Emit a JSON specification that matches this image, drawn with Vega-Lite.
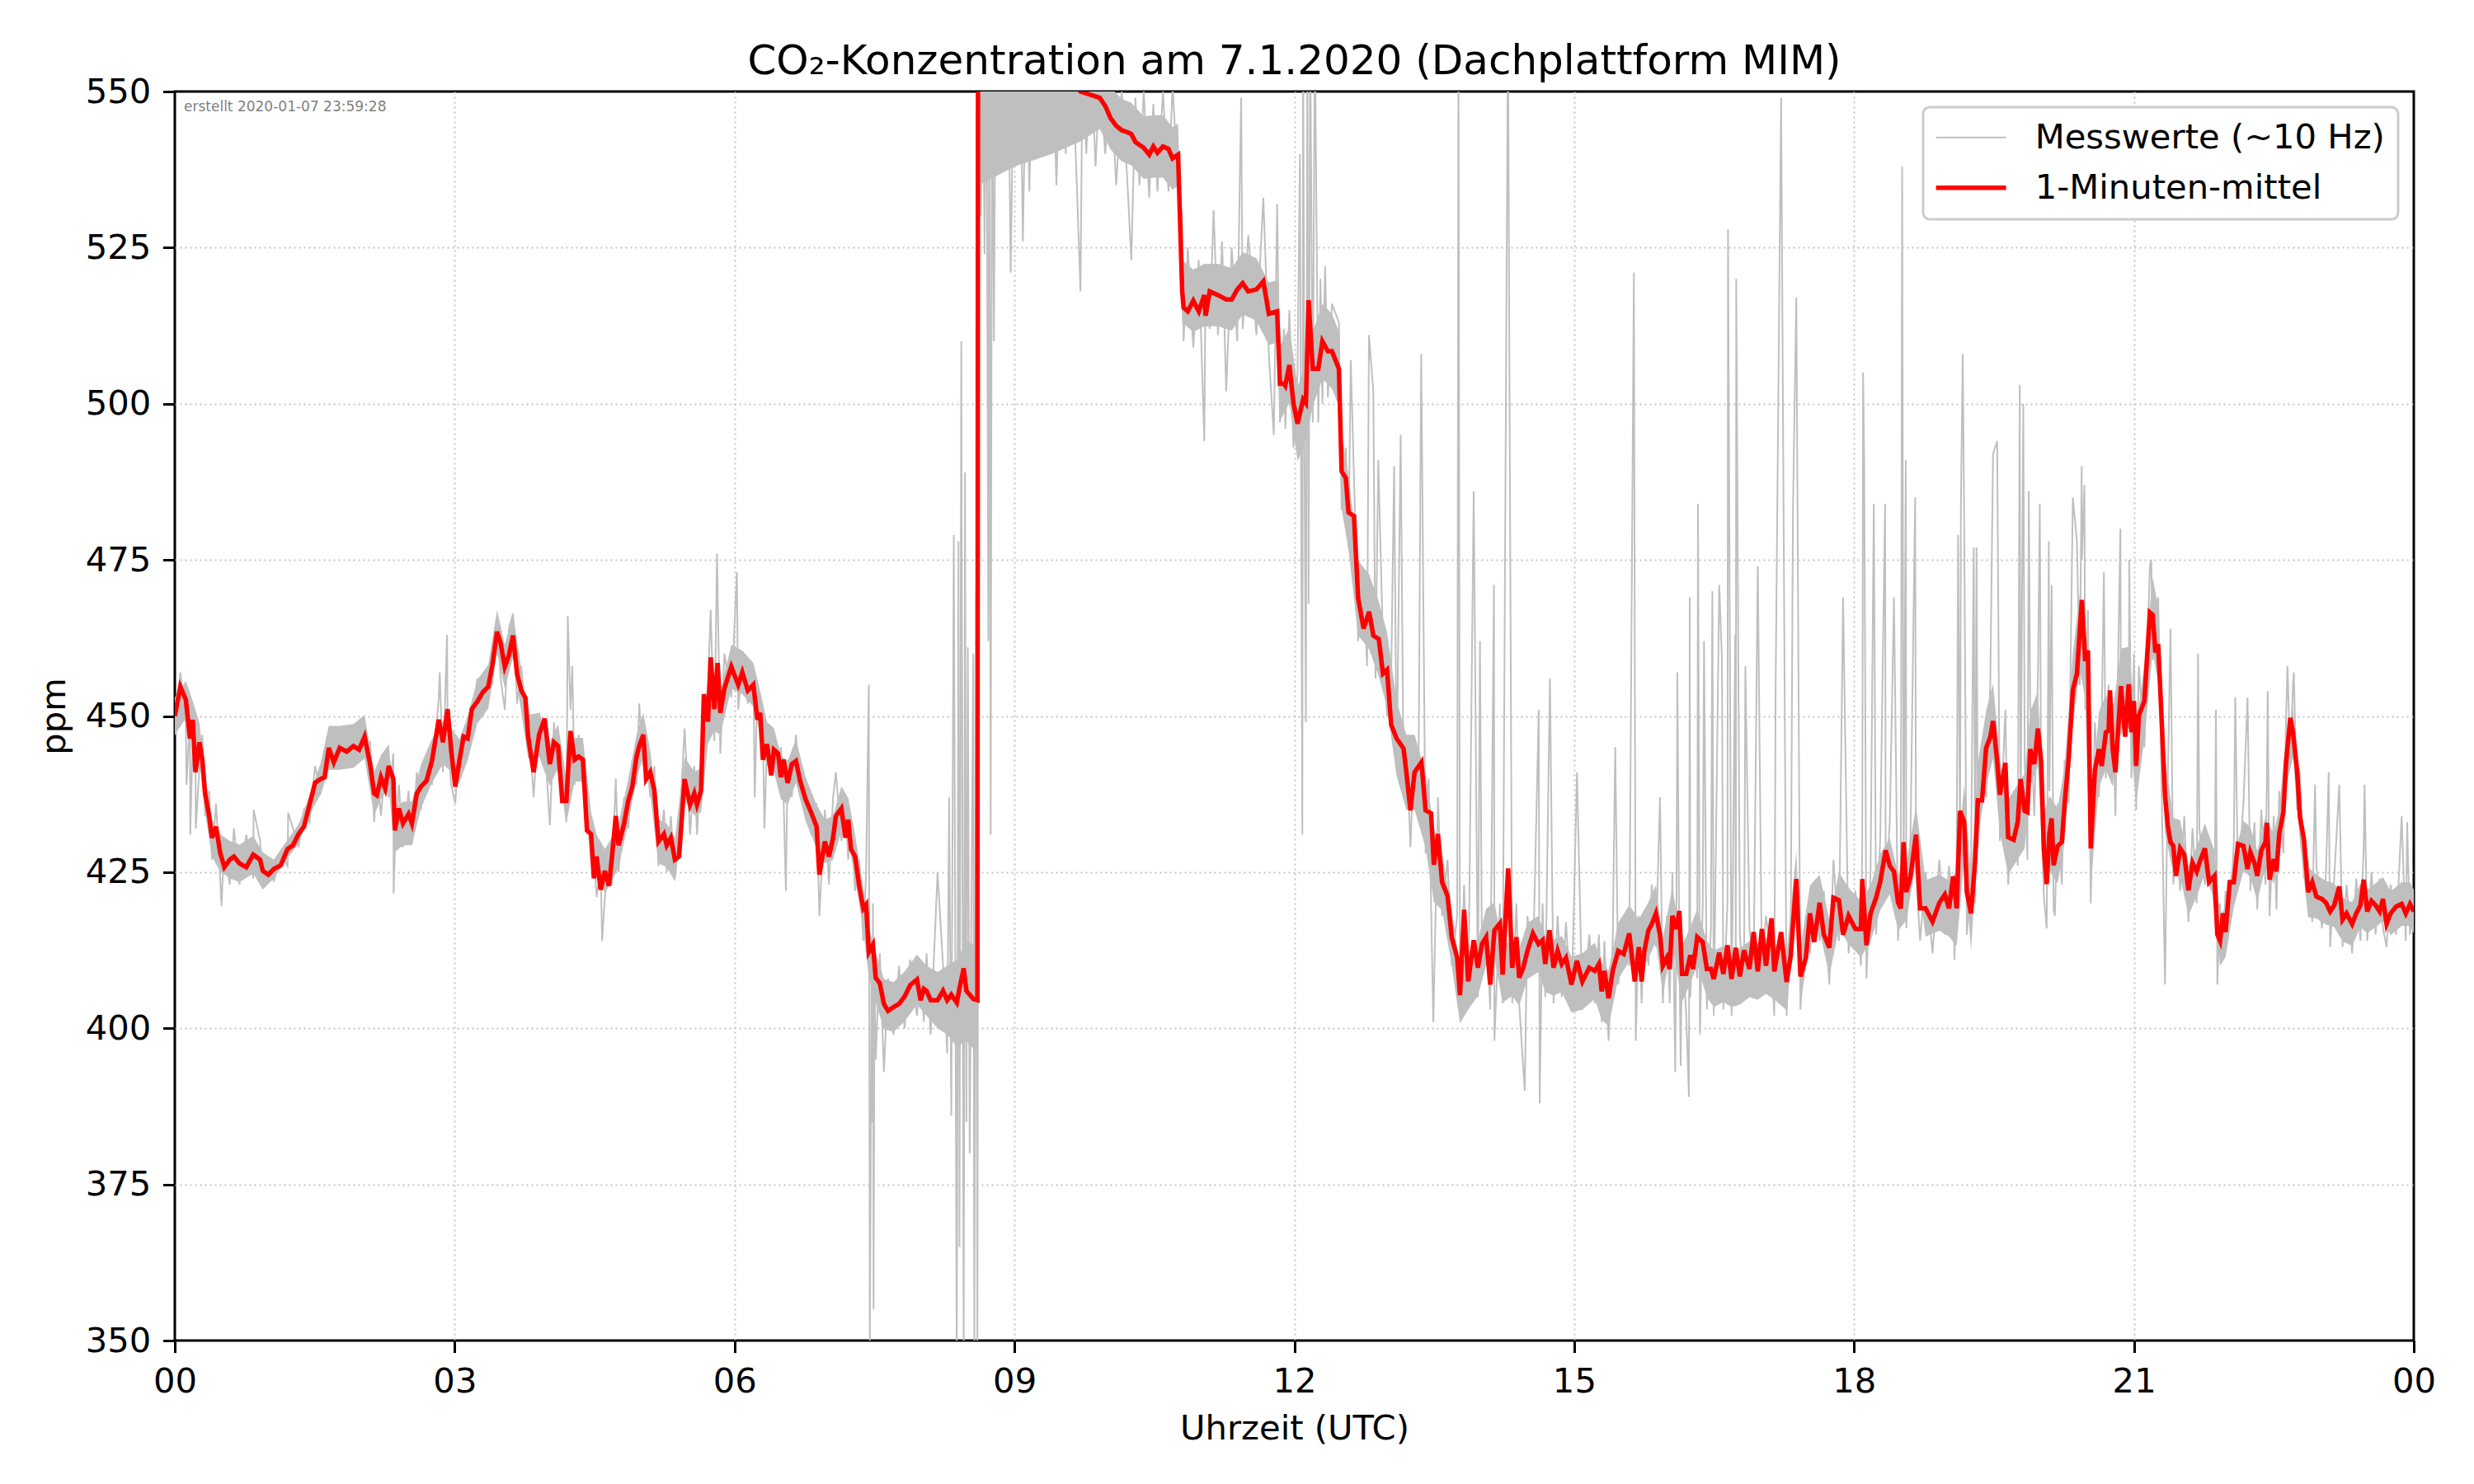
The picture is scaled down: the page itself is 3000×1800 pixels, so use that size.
{
"$schema": "https://vega.github.io/schema/vega-lite/v6.json",
"width": 2715,
"height": 1515,
"autosize": {"type": "none"},
"padding": {"left": 212, "top": 111, "right": 73, "bottom": 174},
"background": "white",
"config": {
  "font": "DejaVu Sans",
  "view": {"stroke": "black", "strokeWidth": 3},
  "axis": {
    "domain": false,
    "grid": true,
    "gridColor": "#c4c4c4",
    "gridDash": [2, 4],
    "gridWidth": 2,
    "tickColor": "black",
    "tickWidth": 3,
    "tickSize": 14.6,
    "labelFont": "DejaVu Sans",
    "labelFontSize": 41.7,
    "labelColor": "black",
    "labelPadding": 14.6,
    "labelFlush": false,
    "titleFont": "DejaVu Sans",
    "titleFontSize": 41.7,
    "titleFontWeight": "normal",
    "titleColor": "black"
  }
},
"title": {"text": "CO₂-Konzentration am 7.1.2020 (Dachplattform MIM)", "font": "DejaVu Sans", "fontSize": 50, "fontWeight": "normal", "color": "black", "anchor": "middle", "offset": -9},
"datasets": {
"band": [
{"t":0,"lo":447,"hi":453},{"t":0.118,"lo":449.6,"hi":455.6},{"t":0.192,"lo":446.4,"hi":452.4},{"t":0.265,"lo":442.8,"hi":448.8},{"t":0.324,"lo":434.6,"hi":440.6},{"t":0.398,"lo":427.5,"hi":433.5},{"t":0.486,"lo":425.1,"hi":431.1},{"t":0.589,"lo":424,"hi":430},{"t":0.693,"lo":423.4,"hi":429.4},{"t":0.84,"lo":424.8,"hi":430.8},{"t":0.943,"lo":422.2,"hi":428.2},{"t":1.061,"lo":424,"hi":427},{"t":1.208,"lo":427.2,"hi":430.2},{"t":1.326,"lo":429.6,"hi":432.6},{"t":1.444,"lo":434.3,"hi":437.3},{"t":1.562,"lo":437.4,"hi":442.4},{"t":1.65,"lo":441.4,"hi":448.4},{"t":1.768,"lo":441.4,"hi":448.4},{"t":1.916,"lo":441.7,"hi":448.7},{"t":2.034,"lo":443.2,"hi":450.2},{"t":2.137,"lo":434.1,"hi":441.1},{"t":2.21,"lo":436.7,"hi":443.7},{"t":2.293,"lo":438.5,"hi":445.5},{"t":2.358,"lo":428.2,"hi":435.2},{"t":2.446,"lo":429.3,"hi":436.3},{"t":2.541,"lo":429.3,"hi":436.3},{"t":2.638,"lo":435.2,"hi":442.2},{"t":2.756,"lo":439.3,"hi":446.3},{"t":2.874,"lo":442.3,"hi":449.3},{"t":2.962,"lo":441.1,"hi":448.1},{"t":3.05,"lo":439.3,"hi":446.3},{"t":3.139,"lo":442.9,"hi":449.9},{"t":3.242,"lo":448.8,"hi":455.8},{"t":3.36,"lo":451.2,"hi":458.2},{"t":3.454,"lo":460,"hi":467},{"t":3.537,"lo":454.4,"hi":461.4},{"t":3.625,"lo":459.4,"hi":466.4},{"t":3.714,"lo":450.6,"hi":457.6},{"t":3.787,"lo":443.2,"hi":450.2},{"t":3.905,"lo":443.5,"hi":450.5},{"t":4.02,"lo":438.8,"hi":445.8},{"t":4.108,"lo":441.7,"hi":448.7},{"t":4.197,"lo":432.9,"hi":439.9},{"t":4.285,"lo":439.5,"hi":446.5},{"t":4.374,"lo":439.5,"hi":446.5},{"t":4.462,"lo":427.6,"hi":434.6},{"t":4.521,"lo":424,"hi":431},{"t":4.61,"lo":421.7,"hi":428.7},{"t":4.683,"lo":423.5,"hi":430.5},{"t":4.757,"lo":425.8,"hi":432.8},{"t":4.86,"lo":432.9,"hi":439.9},{"t":4.949,"lo":440,"hi":447},{"t":5.022,"lo":443.5,"hi":450.5},{"t":5.096,"lo":437.5,"hi":444.5},{"t":5.184,"lo":426.4,"hi":433.4},{"t":5.273,"lo":425.8,"hi":432.8},{"t":5.361,"lo":423.5,"hi":430.5},{"t":5.464,"lo":436.4,"hi":443.4},{"t":5.568,"lo":434.1,"hi":441.1},{"t":5.641,"lo":434.6,"hi":441.6},{"t":5.715,"lo":445.6,"hi":452.6},{"t":5.783,"lo":447.6,"hi":454.6},{"t":5.847,"lo":447,"hi":454},{"t":5.965,"lo":454.4,"hi":461.4},{"t":6.083,"lo":453.5,"hi":460.5},{"t":6.201,"lo":451.5,"hi":458.5},{"t":6.275,"lo":447,"hi":454},{"t":6.348,"lo":442,"hi":449},{"t":6.422,"lo":441.1,"hi":448.1},{"t":6.496,"lo":436.7,"hi":443.7},{"t":6.569,"lo":435.8,"hi":442.8},{"t":6.658,"lo":439.3,"hi":446.3},{"t":6.761,"lo":433.2,"hi":440.2},{"t":6.879,"lo":428.8,"hi":435.8},{"t":6.968,"lo":426.4,"hi":433.4},{"t":7.056,"lo":427,"hi":434},{"t":7.145,"lo":431.7,"hi":438.7},{"t":7.218,"lo":429.9,"hi":436.9},{"t":7.292,"lo":424,"hi":431},{"t":7.38,"lo":415.7,"hi":422.7},{"t":7.439,"lo":408.2,"hi":416.2},{"t":7.513,"lo":404.1,"hi":412.1},{"t":7.601,"lo":399.9,"hi":407.9},{"t":7.704,"lo":399.4,"hi":407.4},{"t":7.823,"lo":401.1,"hi":409.1},{"t":7.955,"lo":403.8,"hi":411.8},{"t":8.058,"lo":402,"hi":410},{"t":8.176,"lo":400,"hi":409},{"t":8.279,"lo":399,"hi":410},{"t":8.382,"lo":397,"hi":411},{"t":8.485,"lo":398,"hi":414},{"t":8.603,"lo":396,"hi":413},{"t":8.62,"lo":535,"hi":570},{"t":9.0,"lo":538,"hi":570},{"t":9.4,"lo":540,"hi":570},{"t":9.708,"lo":542,"hi":570},{"t":9.914,"lo":544,"hi":554},{"t":10.032,"lo":540.7,"hi":550.7},{"t":10.15,"lo":538.8,"hi":548.8},{"t":10.253,"lo":538.2,"hi":548.2},{"t":10.386,"lo":536,"hi":546},{"t":10.489,"lo":536.2,"hi":546.2},{"t":10.592,"lo":536.2,"hi":546.2},{"t":10.695,"lo":534.3,"hi":544.3},{"t":10.754,"lo":534.9,"hi":544.9},{"t":10.798,"lo":513,"hi":523},{"t":10.917,"lo":511.5,"hi":521.5},{"t":11.035,"lo":512.4,"hi":522.4},{"t":11.182,"lo":512.4,"hi":522.4},{"t":11.329,"lo":511.7,"hi":521.7},{"t":11.447,"lo":514.3,"hi":524.3},{"t":11.594,"lo":513.3,"hi":523.3},{"t":11.727,"lo":509.4,"hi":519.4},{"t":11.816,"lo":509.8,"hi":519.8},{"t":11.846,"lo":497.2,"hi":509.2},{"t":11.947,"lo":500.2,"hi":512.2},{"t":12.035,"lo":490.8,"hi":502.8},{"t":12.124,"lo":494.1,"hi":506.1},{"t":12.198,"lo":499.6,"hi":511.6},{"t":12.301,"lo":504,"hi":516},{"t":12.404,"lo":502.4,"hi":514.4},{"t":12.478,"lo":499.6,"hi":511.6},{"t":12.507,"lo":483.2,"hi":495.2},{"t":12.581,"lo":476.6,"hi":488.6},{"t":12.684,"lo":462.9,"hi":474.9},{"t":12.802,"lo":460.7,"hi":472.7},{"t":12.906,"lo":456.3,"hi":468.3},{"t":12.994,"lo":451.4,"hi":463.4},{"t":13.097,"lo":440.4,"hi":452.4},{"t":13.201,"lo":435,"hi":447},{"t":13.289,"lo":435,"hi":447},{"t":13.407,"lo":428.9,"hi":440.9},{"t":13.496,"lo":420.2,"hi":432.2},{"t":13.584,"lo":418.9,"hi":427.9},{"t":13.687,"lo":410.1,"hi":419.1},{"t":13.776,"lo":400.8,"hi":409.8},{"t":13.864,"lo":403,"hi":412},{"t":13.968,"lo":405.2,"hi":414.2},{"t":14.056,"lo":410.1,"hi":419.1},{"t":14.145,"lo":411.2,"hi":420.2},{"t":14.233,"lo":404.1,"hi":413.1},{"t":14.336,"lo":405.2,"hi":414.2},{"t":14.41,"lo":403.6,"hi":412.6},{"t":14.499,"lo":407.9,"hi":416.9},{"t":14.617,"lo":409,"hi":418},{"t":14.69,"lo":405.8,"hi":414.8},{"t":14.779,"lo":405.2,"hi":414.2},{"t":14.867,"lo":405.8,"hi":414.8},{"t":14.971,"lo":402.5,"hi":411.5},{"t":15.088,"lo":403,"hi":412},{"t":15.221,"lo":404.7,"hi":413.7},{"t":15.295,"lo":401.4,"hi":410.4},{"t":15.369,"lo":400.3,"hi":409.3},{"t":15.472,"lo":407.9,"hi":416.9},{"t":15.59,"lo":410.7,"hi":419.7},{"t":15.693,"lo":408.5,"hi":417.5},{"t":15.796,"lo":411.2,"hi":420.2},{"t":15.876,"lo":413.9,"hi":422.9},{"t":15.95,"lo":405.5,"hi":414.5},{"t":16.053,"lo":413.5,"hi":422.5},{"t":16.156,"lo":404.2,"hi":413.2},{"t":16.245,"lo":407.2,"hi":416.2},{"t":16.319,"lo":410.1,"hi":419.1},{"t":16.422,"lo":405,"hi":414},{"t":16.496,"lo":403.4,"hi":412.4},{"t":16.599,"lo":404.2,"hi":413.2},{"t":16.687,"lo":403.4,"hi":412.4},{"t":16.776,"lo":403.8,"hi":412.8},{"t":16.879,"lo":405,"hi":414},{"t":16.968,"lo":404.6,"hi":413.6},{"t":17.056,"lo":405.5,"hi":414.5},{"t":17.145,"lo":404.6,"hi":413.6},{"t":17.277,"lo":402.9,"hi":411.9},{"t":17.381,"lo":419.4,"hi":428.4},{"t":17.425,"lo":403.8,"hi":412.8},{"t":17.528,"lo":413.9,"hi":422.9},{"t":17.631,"lo":415.6,"hi":424.6},{"t":17.735,"lo":408.4,"hi":417.4},{"t":17.838,"lo":416,"hi":425},{"t":17.941,"lo":413.5,"hi":422.5},{"t":18.074,"lo":411.4,"hi":420.4},{"t":18.177,"lo":413.9,"hi":422.9},{"t":18.28,"lo":418.9,"hi":427.9},{"t":18.383,"lo":421.5,"hi":430.5},{"t":18.472,"lo":415.6,"hi":424.6},{"t":18.56,"lo":417.3,"hi":426.3},{"t":18.664,"lo":426.5,"hi":435.5},{"t":18.767,"lo":414.7,"hi":423.7},{"t":18.914,"lo":415.6,"hi":424.6},{"t":19.018,"lo":414.7,"hi":423.7},{"t":19.1,"lo":413.2,"hi":425.2},{"t":19.18,"lo":427.1,"hi":439.1},{"t":19.254,"lo":412.4,"hi":424.4},{"t":19.327,"lo":430.5,"hi":442.5},{"t":19.416,"lo":438.9,"hi":450.9},{"t":19.49,"lo":443.2,"hi":455.2},{"t":19.563,"lo":431.4,"hi":443.4},{"t":19.652,"lo":424.6,"hi":436.6},{"t":19.755,"lo":427.1,"hi":439.1},{"t":19.829,"lo":428.8,"hi":440.8},{"t":19.888,"lo":438.7,"hi":450.7},{"t":19.971,"lo":442,"hi":454},{"t":20.035,"lo":422.5,"hi":434.5},{"t":20.094,"lo":425.2,"hi":437.2},{"t":20.183,"lo":423.2,"hi":435.2},{"t":20.257,"lo":429.9,"hi":441.9},{"t":20.345,"lo":448.1,"hi":460.1},{"t":20.419,"lo":457.5,"hi":469.5},{"t":20.478,"lo":452.8,"hi":464.8},{"t":20.537,"lo":422.8,"hi":434.8},{"t":20.625,"lo":438.7,"hi":450.7},{"t":20.699,"lo":441.4,"hi":453.4},{"t":20.773,"lo":438.7,"hi":450.7},{"t":20.861,"lo":448.8,"hi":460.8},{"t":20.944,"lo":449.1,"hi":461.1},{"t":21.024,"lo":436,"hi":448},{"t":21.112,"lo":446.4,"hi":458.4},{"t":21.201,"lo":460.2,"hi":472.2},{"t":21.26,"lo":455.5,"hi":467.5},{"t":21.333,"lo":431.3,"hi":443.3},{"t":21.422,"lo":424.7,"hi":433.7},{"t":21.496,"lo":424.3,"hi":433.3},{"t":21.584,"lo":418.1,"hi":426.1},{"t":21.673,"lo":421.1,"hi":429.1},{"t":21.761,"lo":424.8,"hi":432.8},{"t":21.864,"lo":420.4,"hi":428.4},{"t":21.923,"lo":410,"hi":418},{"t":21.982,"lo":411.4,"hi":419.4},{"t":22.071,"lo":419.4,"hi":427.4},{"t":22.174,"lo":425.2,"hi":433.2},{"t":22.248,"lo":424.2,"hi":432.2},{"t":22.322,"lo":420.4,"hi":428.4},{"t":22.41,"lo":425.8,"hi":433.8},{"t":22.499,"lo":423.1,"hi":431.1},{"t":22.558,"lo":427.2,"hi":435.2},{"t":22.631,"lo":438.6,"hi":446.6},{"t":22.705,"lo":443.4,"hi":451.4},{"t":22.779,"lo":429.9,"hi":437.9},{"t":22.867,"lo":417.8,"hi":425.8},{"t":22.956,"lo":417.6,"hi":424.6},{"t":23.059,"lo":416.6,"hi":423.6},{"t":23.147,"lo":416.2,"hi":423.2},{"t":23.236,"lo":413.9,"hi":420.9},{"t":23.339,"lo":413.2,"hi":420.2},{"t":23.428,"lo":416.2,"hi":423.2},{"t":23.501,"lo":415.2,"hi":422.2},{"t":23.59,"lo":416.2,"hi":423.2},{"t":23.67,"lo":417.2,"hi":424.2},{"t":23.752,"lo":414.9,"hi":421.9},{"t":23.87,"lo":416.4,"hi":423.4},{"t":23.959,"lo":416.4,"hi":423.4},{"t":24,"lo":415.2,"hi":422.2}
],
"raw": [
{"t":0,"v":447},{"t":0.059,"v":457},{"t":0.118,"v":449},{"t":0.125,"v":439},{"t":0.162,"v":450},{"t":0.165,"v":431},{"t":0.192,"v":446},{"t":0.221,"v":445},{"t":0.225,"v":432},{"t":0.265,"v":442},{"t":0.295,"v":447},{"t":0.324,"v":434},{"t":0.368,"v":438},{"t":0.398,"v":427},{"t":0.442,"v":436},{"t":0.486,"v":424},{"t":0.5,"v":419.6},{"t":0.531,"v":430},{"t":0.589,"v":423},{"t":0.634,"v":432},{"t":0.693,"v":423},{"t":0.766,"v":431},{"t":0.84,"v":424},{"t":0.845,"v":435},{"t":0.914,"v":430},{"t":0.943,"v":423},{"t":1.002,"v":427},{"t":1.061,"v":423.5},{"t":1.135,"v":428},{"t":1.208,"v":426},{"t":1.215,"v":434.5},{"t":1.267,"v":432},{"t":1.326,"v":429},{"t":1.385,"v":435},{"t":1.444,"v":433},{"t":1.503,"v":442},{"t":1.562,"v":437.5},{"t":1.606,"v":443},{"t":1.65,"v":442},{"t":1.704,"v":446},{"t":1.768,"v":442},{"t":1.842,"v":447},{"t":1.916,"v":442},{"t":1.975,"v":447.5},{"t":2.034,"v":444},{"t":2.093,"v":446},{"t":2.137,"v":433},{"t":2.166,"v":441},{"t":2.21,"v":434},{"t":2.255,"v":442},{"t":2.293,"v":437},{"t":2.343,"v":444},{"t":2.345,"v":421.6},{"t":2.358,"v":428},{"t":2.402,"v":439},{"t":2.446,"v":429},{"t":2.505,"v":438},{"t":2.541,"v":429.5},{"t":2.594,"v":441},{"t":2.638,"v":435},{"t":2.697,"v":443},{"t":2.756,"v":439},{"t":2.829,"v":453},{"t":2.84,"v":457},{"t":2.874,"v":441},{"t":2.918,"v":463},{"t":2.924,"v":448},{"t":2.962,"v":439},{"t":3.006,"v":436},{"t":3.05,"v":446},{"t":3.095,"v":443},{"t":3.139,"v":450},{"t":3.183,"v":448},{"t":3.242,"v":456},{"t":3.301,"v":450},{"t":3.36,"v":458},{"t":3.404,"v":455},{"t":3.454,"v":466},{"t":3.492,"v":456},{"t":3.537,"v":451},{"t":3.581,"v":464},{"t":3.625,"v":466.4},{"t":3.669,"v":452},{"t":3.714,"v":458},{"t":3.758,"v":449},{"t":3.787,"v":451},{"t":3.846,"v":437},{"t":3.905,"v":450.5},{"t":3.964,"v":446},{"t":4.02,"v":432.5},{"t":4.064,"v":449},{"t":4.108,"v":441},{"t":4.153,"v":440},{"t":4.197,"v":433},{"t":4.212,"v":466},{"t":4.241,"v":451},{"t":4.26,"v":458},{"t":4.285,"v":439},{"t":4.329,"v":447},{"t":4.374,"v":439},{"t":4.418,"v":435},{"t":4.462,"v":427},{"t":4.492,"v":428},{"t":4.521,"v":421},{"t":4.565,"v":426},{"t":4.58,"v":414},{"t":4.61,"v":421},{"t":4.654,"v":427},{"t":4.683,"v":423},{"t":4.727,"v":440},{"t":4.757,"v":425},{"t":4.816,"v":437},{"t":4.86,"v":432},{"t":4.904,"v":443},{"t":4.949,"v":439},{"t":4.978,"v":452},{"t":5.022,"v":442},{"t":5.052,"v":445},{"t":5.096,"v":437},{"t":5.14,"v":442},{"t":5.184,"v":426},{"t":5.243,"v":435},{"t":5.273,"v":425},{"t":5.317,"v":434},{"t":5.361,"v":424},{"t":5.405,"v":431},{"t":5.464,"v":448},{"t":5.523,"v":431},{"t":5.568,"v":442},{"t":5.597,"v":431},{"t":5.641,"v":443},{"t":5.671,"v":449},{"t":5.715,"v":455},{"t":5.744,"v":467},{"t":5.783,"v":446},{"t":5.812,"v":476},{"t":5.847,"v":444},{"t":5.891,"v":460},{"t":5.965,"v":453},{"t":6.025,"v":473},{"t":6.039,"v":451},{"t":6.083,"v":458},{"t":6.142,"v":452},{"t":6.201,"v":458},{"t":6.216,"v":437},{"t":6.245,"v":455},{"t":6.275,"v":446},{"t":6.304,"v":447},{"t":6.32,"v":432},{"t":6.348,"v":446},{"t":6.393,"v":441},{"t":6.422,"v":446},{"t":6.466,"v":439},{"t":6.496,"v":445},{"t":6.525,"v":437},{"t":6.55,"v":422},{"t":6.569,"v":443},{"t":6.614,"v":437},{"t":6.658,"v":447},{"t":6.703,"v":437},{"t":6.761,"v":440},{"t":6.82,"v":431},{"t":6.879,"v":436},{"t":6.909,"v":418},{"t":6.968,"v":435},{"t":7.012,"v":423},{"t":7.056,"v":437},{"t":7.086,"v":441},{"t":7.145,"v":430},{"t":7.189,"v":435},{"t":7.218,"v":427},{"t":7.248,"v":433},{"t":7.292,"v":422},{"t":7.336,"v":427},{"t":7.38,"v":414},{"t":7.41,"v":425},{"t":7.439,"v":455},{"t":7.45,"v":348},{"t":7.47,"v":412},{"t":7.475,"v":385},{"t":7.483,"v":420},{"t":7.49,"v":355},{"t":7.5,"v":410},{"t":7.513,"v":395},{"t":7.557,"v":412},{"t":7.601,"v":393},{"t":7.645,"v":408},{"t":7.704,"v":399},{"t":7.763,"v":410},{"t":7.823,"v":400},{"t":7.882,"v":411},{"t":7.955,"v":402},{"t":7.994,"v":409},{"t":8.029,"v":401},{"t":8.058,"v":412},{"t":8.102,"v":399},{"t":8.176,"v":425},{"t":8.235,"v":410},{"t":8.279,"v":396},{"t":8.3,"v":437},{"t":8.323,"v":386},{"t":8.35,"v":479},{"t":8.382,"v":345},{"t":8.4,"v":478},{"t":8.411,"v":365},{"t":8.43,"v":510},{"t":8.456,"v":345},{"t":8.47,"v":489},{"t":8.485,"v":385},{"t":8.5,"v":461},{"t":8.52,"v":380},{"t":8.559,"v":460},{"t":8.57,"v":345},{"t":8.59,"v":470},{"t":8.603,"v":345},{"t":8.62,"v":565},{"t":8.64,"v":530},{"t":8.66,"v":560},{"t":8.68,"v":524},{"t":8.7,"v":565},{"t":8.72,"v":462},{"t":8.73,"v":560},{"t":8.745,"v":431},{"t":8.76,"v":560},{"t":8.78,"v":510},{"t":8.8,"v":562},{"t":8.83,"v":538},{"t":8.86,"v":560},{"t":8.9,"v":545},{"t":8.93,"v":562},{"t":8.96,"v":521},{"t":9.0,"v":565},{"t":9.03,"v":540},{"t":9.06,"v":562},{"t":9.09,"v":526},{"t":9.13,"v":560},{"t":9.16,"v":534},{"t":9.2,"v":565},{"t":9.25,"v":545},{"t":9.3,"v":560},{"t":9.35,"v":543},{"t":9.4,"v":562},{"t":9.45,"v":535},{"t":9.5,"v":560},{"t":9.55,"v":540},{"t":9.6,"v":558},{"t":9.65,"v":543},{"t":9.708,"v":518},{"t":9.73,"v":556},{"t":9.77,"v":540},{"t":9.82,"v":556},{"t":9.87,"v":538},{"t":9.914,"v":553},{"t":9.973,"v":540},{"t":10.032,"v":552},{"t":10.091,"v":535},{"t":10.15,"v":550},{"t":10.209,"v":536},{"t":10.253,"v":523},{"t":10.297,"v":549},{"t":10.34,"v":535},{"t":10.386,"v":550},{"t":10.445,"v":533},{"t":10.489,"v":548},{"t":10.533,"v":534},{"t":10.592,"v":550},{"t":10.651,"v":534},{"t":10.695,"v":551},{"t":10.754,"v":535},{"t":10.798,"v":530},{"t":10.813,"v":510},{"t":10.858,"v":525},{"t":10.917,"v":509},{"t":10.976,"v":523},{"t":11.035,"v":494},{"t":11.049,"v":520},{"t":11.093,"v":512},{"t":11.135,"v":531},{"t":11.182,"v":511},{"t":11.226,"v":526},{"t":11.27,"v":502},{"t":11.329,"v":525},{"t":11.388,"v":510},{"t":11.43,"v":549},{"t":11.447,"v":512},{"t":11.506,"v":527},{"t":11.594,"v":511},{"t":11.668,"v":533},{"t":11.727,"v":508},{"t":11.78,"v":495},{"t":11.816,"v":532},{"t":11.846,"v":497},{"t":11.89,"v":512},{"t":11.903,"v":496},{"t":11.947,"v":515},{"t":11.991,"v":493},{"t":12.035,"v":505},{"t":12.06,"v":540},{"t":12.086,"v":431},{"t":12.094,"v":560},{"t":12.11,"v":490},{"t":12.124,"v":449},{"t":12.14,"v":560},{"t":12.153,"v":468},{"t":12.17,"v":560},{"t":12.198,"v":497},{"t":12.22,"v":560},{"t":12.257,"v":497},{"t":12.28,"v":520},{"t":12.301,"v":500},{"t":12.33,"v":522},{"t":12.36,"v":501},{"t":12.404,"v":516},{"t":12.478,"v":513},{"t":12.507,"v":483},{"t":12.552,"v":493},{"t":12.581,"v":477},{"t":12.605,"v":507},{"t":12.64,"v":488},{"t":12.684,"v":462},{"t":12.743,"v":472},{"t":12.78,"v":458},{"t":12.8,"v":511},{"t":12.847,"v":502},{"t":12.87,"v":456},{"t":12.9,"v":491},{"t":12.95,"v":462},{"t":12.994,"v":450},{"t":13.038,"v":456},{"t":13.07,"v":490},{"t":13.097,"v":441},{"t":13.14,"v":495},{"t":13.171,"v":440},{"t":13.201,"v":446},{"t":13.245,"v":429},{"t":13.289,"v":446},{"t":13.33,"v":436},{"t":13.36,"v":508},{"t":13.407,"v":428},{"t":13.44,"v":440},{"t":13.49,"v":401},{"t":13.54,"v":437},{"t":13.584,"v":418},{"t":13.643,"v":427},{"t":13.687,"v":410},{"t":13.746,"v":418},{"t":13.76,"v":560},{"t":13.776,"v":402},{"t":13.82,"v":423},{"t":13.864,"v":403},{"t":13.923,"v":486},{"t":13.968,"v":405},{"t":13.99,"v":462},{"t":14.012,"v":409},{"t":14.056,"v":418},{"t":14.1,"v":403},{"t":14.14,"v":471},{"t":14.145,"v":398},{"t":14.204,"v":420},{"t":14.233,"v":404},{"t":14.29,"v":560},{"t":14.336,"v":404},{"t":14.381,"v":420},{"t":14.41,"v":404},{"t":14.47,"v":390},{"t":14.499,"v":418},{"t":14.558,"v":410},{"t":14.62,"v":451},{"t":14.63,"v":388},{"t":14.661,"v":420},{"t":14.69,"v":405},{"t":14.74,"v":456},{"t":14.779,"v":404},{"t":14.823,"v":418},{"t":14.867,"v":405},{"t":14.912,"v":417},{"t":14.971,"v":403},{"t":15.03,"v":441},{"t":15.088,"v":403},{"t":15.162,"v":415},{"t":15.221,"v":404},{"t":15.265,"v":415},{"t":15.295,"v":401},{"t":15.324,"v":414},{"t":15.369,"v":398},{"t":15.413,"v":414},{"t":15.44,"v":445},{"t":15.472,"v":407},{"t":15.531,"v":418},{"t":15.59,"v":410},{"t":15.64,"v":521},{"t":15.66,"v":398},{"t":15.693,"v":418},{"t":15.723,"v":404},{"t":15.752,"v":417},{"t":15.796,"v":410},
{"t":15.832,"v":423},{"t":15.876,"v":413},{"t":15.92,"v":437},{"t":15.95,"v":404},{"t":15.994,"v":418},{"t":16.024,"v":404},{"t":16.053,"v":425},{"t":16.083,"v":393},{"t":16.097,"v":421},{"t":16.106,"v":457},{"t":16.127,"v":412},{"t":16.142,"v":394},{"t":16.156,"v":415},{"t":16.201,"v":402},{"t":16.23,"v":389},{"t":16.239,"v":469},{"t":16.245,"v":405},{"t":16.274,"v":416},{"t":16.319,"v":408},{"t":16.327,"v":484},{"t":16.348,"v":399},{"t":16.378,"v":420},{"t":16.392,"v":462},{"t":16.422,"v":403},{"t":16.466,"v":416},{"t":16.481,"v":470},{"t":16.496,"v":402},{"t":16.555,"v":471},{"t":16.584,"v":459},{"t":16.599,"v":403},{"t":16.643,"v":420},{"t":16.649,"v":528},{"t":16.687,"v":402},{"t":16.726,"v":463},{"t":16.732,"v":406},{"t":16.737,"v":520},{"t":16.776,"v":415},{"t":16.82,"v":405},{"t":16.835,"v":458},{"t":16.879,"v":416},{"t":16.923,"v":409},{"t":16.968,"v":474},{"t":17.012,"v":409},{"t":17.056,"v":418},{"t":17.115,"v":411},{"t":17.145,"v":402},{"t":17.159,"v":454},{"t":17.218,"v":549},{"t":17.277,"v":402},{"t":17.322,"v":418},{"t":17.345,"v":483},{"t":17.381,"v":517},{"t":17.425,"v":403},{"t":17.484,"v":418},{"t":17.528,"v":412},{"t":17.572,"v":421},{"t":17.631,"v":414},{"t":17.676,"v":422},{"t":17.735,"v":407},{"t":17.779,"v":427},{"t":17.838,"v":414},{"t":17.882,"v":469},{"t":17.941,"v":412},{"t":18.015,"v":422},{"t":18.074,"v":410},{"t":18.088,"v":430},{"t":18.097,"v":505},{"t":18.109,"v":490},{"t":18.133,"v":408},{"t":18.177,"v":425},{"t":18.212,"v":484},{"t":18.236,"v":415},{"t":18.28,"v":430},{"t":18.333,"v":484},{"t":18.339,"v":422},{"t":18.383,"v":433},{"t":18.428,"v":469},{"t":18.472,"v":414},{"t":18.501,"v":426},{"t":18.516,"v":538},{"t":18.531,"v":423},{"t":18.555,"v":491},{"t":18.56,"v":416},{"t":18.605,"v":431},{"t":18.655,"v":485},{"t":18.664,"v":425},{"t":18.708,"v":414},{"t":18.767,"v":425},{"t":18.841,"v":412},{"t":18.914,"v":427},{"t":18.973,"v":415},{"t":19.018,"v":426},{"t":19.062,"v":419},{"t":19.077,"v":411},{"t":19.1,"v":428},{"t":19.115,"v":479},{"t":19.136,"v":427},{"t":19.145,"v":483},{"t":19.165,"v":508},{"t":19.18,"v":482},{"t":19.209,"v":415},{"t":19.254,"v":426},{"t":19.283,"v":477},{"t":19.298,"v":420},{"t":19.313,"v":477},{"t":19.327,"v":429},{"t":19.372,"v":444},{"t":19.416,"v":437},{"t":19.46,"v":455},{"t":19.49,"v":492},{"t":19.534,"v":494},{"t":19.563,"v":430},{"t":19.622,"v":451},{"t":19.652,"v":423},{"t":19.711,"v":438},{"t":19.755,"v":426},{"t":19.776,"v":503},{"t":19.785,"v":432},{"t":19.814,"v":500},{"t":19.829,"v":443},{"t":19.858,"v":427},{"t":19.873,"v":486},{"t":19.888,"v":452},{"t":19.932,"v":434},{"t":19.971,"v":456},{"t":19.991,"v":484},{"t":20.006,"v":435},{"t":20.035,"v":421},{"t":20.065,"v":416},{"t":20.088,"v":478},{"t":20.094,"v":438},{"t":20.118,"v":471},{"t":20.139,"v":419},{"t":20.153,"v":418},{"t":20.183,"v":436},{"t":20.227,"v":423},{"t":20.257,"v":443},{"t":20.301,"v":436},{"t":20.345,"v":485},{"t":20.389,"v":478},{"t":20.419,"v":455},{"t":20.44,"v":490},{"t":20.442,"v":475},{"t":20.469,"v":487},{"t":20.478,"v":451},{"t":20.507,"v":467},{"t":20.537,"v":420},{"t":20.581,"v":449},{"t":20.625,"v":437},{"t":20.655,"v":450},{"t":20.678,"v":473},{"t":20.699,"v":440},{"t":20.729,"v":455},{"t":20.743,"v":447},{"t":20.773,"v":452},{"t":20.802,"v":434},{"t":20.855,"v":480},{"t":20.861,"v":447},{"t":20.906,"v":454},{"t":20.944,"v":448},{"t":20.95,"v":475},{"t":20.973,"v":440},{"t":21,"v":460},{"t":21.024,"v":435},{"t":21.053,"v":458},{"t":21.112,"v":445},{"t":21.171,"v":474},{"t":21.186,"v":475},{"t":21.201,"v":459},{"t":21.23,"v":467},{"t":21.26,"v":469},{"t":21.289,"v":445},{"t":21.333,"v":407},{"t":21.363,"v":440},{"t":21.392,"v":464},{"t":21.422,"v":423},{"t":21.451,"v":431},{"t":21.496,"v":422},{"t":21.54,"v":434},{"t":21.584,"v":417},{"t":21.628,"v":432},{"t":21.673,"v":420},{"t":21.687,"v":460},{"t":21.702,"v":432},{"t":21.761,"v":423},{"t":21.805,"v":429},{"t":21.864,"v":419},{"t":21.879,"v":451},{"t":21.894,"v":407},{"t":21.923,"v":420},{"t":21.953,"v":412},{"t":21.982,"v":422},{"t":22.027,"v":417},{"t":22.071,"v":430},{"t":22.086,"v":453},{"t":22.115,"v":423},{"t":22.174,"v":436},{"t":22.218,"v":453},{"t":22.248,"v":422},{"t":22.292,"v":433},{"t":22.322,"v":419},{"t":22.366,"v":435},{"t":22.41,"v":423},{"t":22.425,"v":440},{"t":22.434,"v":454},{"t":22.454,"v":418},{"t":22.499,"v":434},{"t":22.528,"v":419},{"t":22.558,"v":438},{"t":22.602,"v":428},{"t":22.631,"v":450},{"t":22.646,"v":458},{"t":22.676,"v":443},{"t":22.705,"v":455},{"t":22.714,"v":457},{"t":22.749,"v":435},{"t":22.779,"v":441},{"t":22.823,"v":424},{"t":22.867,"v":427},{"t":22.912,"v":417},{"t":22.941,"v":439},{"t":22.956,"v":426},{"t":23.015,"v":416},{"t":23.059,"v":425},{"t":23.088,"v":441},{"t":23.103,"v":413},{"t":23.147,"v":424},{"t":23.201,"v":439},{"t":23.236,"v":413},{"t":23.28,"v":423},{"t":23.339,"v":412},{"t":23.383,"v":424},{"t":23.428,"v":414},{"t":23.463,"v":429},{"t":23.472,"v":439},{"t":23.501,"v":414},{"t":23.546,"v":425},{"t":23.59,"v":415},{"t":23.634,"v":424},{"t":23.67,"v":416},{"t":23.708,"v":413},{"t":23.752,"v":423},{"t":23.811,"v":415},{"t":23.87,"v":434},{"t":23.914,"v":414},{"t":23.929,"v":433},{"t":23.959,"v":415},{"t":24,"v":421}
],
"mean": [
{"t":0,"v":450},{"t":0.059,"v":454.7},{"t":0.118,"v":452.6},{"t":0.162,"v":446.4},{"t":0.192,"v":449.4},{"t":0.221,"v":441},{"t":0.265,"v":445.8},{"t":0.295,"v":443},{"t":0.324,"v":437.6},{"t":0.368,"v":434},{"t":0.398,"v":430.5},{"t":0.442,"v":432.3},{"t":0.486,"v":428.1},{"t":0.531,"v":425.8},{"t":0.589,"v":427},{"t":0.634,"v":427.5},{"t":0.693,"v":426.4},{"t":0.766,"v":425.8},{"t":0.84,"v":427.8},{"t":0.914,"v":427},{"t":0.943,"v":425.2},{"t":1.002,"v":424.6},{"t":1.061,"v":425.5},{"t":1.135,"v":426.1},{"t":1.208,"v":428.7},{"t":1.267,"v":429.3},{"t":1.326,"v":431.1},{"t":1.385,"v":432.3},{"t":1.444,"v":435.8},{"t":1.503,"v":439.3},{"t":1.562,"v":439.9},{"t":1.606,"v":440.2},{"t":1.65,"v":444.9},{"t":1.704,"v":442.6},{"t":1.768,"v":444.9},{"t":1.842,"v":444.3},{"t":1.916,"v":445.2},{"t":1.975,"v":444.6},{"t":2.034,"v":446.7},{"t":2.093,"v":442.3},{"t":2.137,"v":437.6},{"t":2.166,"v":437.3},{"t":2.21,"v":440.2},{"t":2.255,"v":438.4},{"t":2.293,"v":442},{"t":2.343,"v":439.9},{"t":2.358,"v":431.7},{"t":2.402,"v":435.2},{"t":2.446,"v":432.8},{"t":2.505,"v":434.3},{"t":2.541,"v":432.8},{"t":2.594,"v":437.6},{"t":2.638,"v":438.7},{"t":2.697,"v":439.6},{"t":2.756,"v":442.8},{"t":2.829,"v":449.4},{"t":2.874,"v":445.8},{"t":2.924,"v":451.1},{"t":2.962,"v":444.6},{"t":3.006,"v":438.7},{"t":3.05,"v":442.8},{"t":3.095,"v":446.7},{"t":3.139,"v":446.4},{"t":3.183,"v":451.1},{"t":3.242,"v":452.3},{"t":3.301,"v":453.8},{"t":3.36,"v":454.7},{"t":3.404,"v":458.2},{"t":3.454,"v":463.5},{"t":3.492,"v":461.7},{"t":3.537,"v":457.9},{"t":3.581,"v":459.7},{"t":3.625,"v":462.9},{"t":3.669,"v":456.7},{"t":3.714,"v":454.1},{"t":3.758,"v":452.9},{"t":3.787,"v":446.7},{"t":3.846,"v":441},{"t":3.905,"v":447},{"t":3.964,"v":449.6},{"t":4.02,"v":442.3},{"t":4.064,"v":445.8},{"t":4.108,"v":445.2},{"t":4.153,"v":436.4},{"t":4.197,"v":436.4},{"t":4.241,"v":447.6},{"t":4.285,"v":443},{"t":4.329,"v":443.5},{"t":4.374,"v":443},{"t":4.418,"v":431.7},{"t":4.462,"v":431.1},{"t":4.492,"v":424},{"t":4.521,"v":427.5},{"t":4.565,"v":422.2},{"t":4.61,"v":425.2},{"t":4.654,"v":422.8},{"t":4.683,"v":427},{"t":4.727,"v":434},{"t":4.757,"v":429.3},{"t":4.816,"v":432.8},{"t":4.86,"v":436.4},{"t":4.904,"v":438.7},{"t":4.949,"v":443.5},{"t":4.978,"v":445.2},{"t":5.022,"v":447},{"t":5.052,"v":439.9},{"t":5.096,"v":441},{"t":5.14,"v":438.1},{"t":5.184,"v":429.9},{"t":5.243,"v":431.1},{"t":5.273,"v":429.3},{"t":5.317,"v":430.5},{"t":5.361,"v":427},{"t":5.405,"v":427.5},{"t":5.464,"v":439.9},{"t":5.523,"v":435.8},{"t":5.568,"v":437.6},{"t":5.597,"v":435.8},{"t":5.641,"v":438.1},{"t":5.671,"v":453.5},{"t":5.715,"v":449.1},{"t":5.744,"v":459.4},{"t":5.783,"v":451.1},{"t":5.818,"v":458.5},{"t":5.847,"v":450.5},{"t":5.891,"v":454.4},{"t":5.965,"v":457.9},{"t":6.039,"v":455},{"t":6.083,"v":457},{"t":6.142,"v":454.1},{"t":6.201,"v":455},{"t":6.245,"v":449.4},{"t":6.275,"v":450.5},{"t":6.304,"v":443},{"t":6.348,"v":445.5},{"t":6.393,"v":440.5},{"t":6.422,"v":444.6},{"t":6.466,"v":444},{"t":6.496,"v":440.2},{"t":6.525,"v":443},{"t":6.569,"v":439.3},{"t":6.614,"v":442.3},{"t":6.658,"v":442.8},{"t":6.703,"v":439.6},{"t":6.761,"v":436.7},{"t":6.82,"v":434.6},{"t":6.879,"v":432.3},{"t":6.909,"v":424.6},{"t":6.968,"v":429.9},{"t":7.012,"v":427.5},{"t":7.056,"v":430.5},{"t":7.086,"v":434},{"t":7.145,"v":435.2},{"t":7.189,"v":430.5},{"t":7.218,"v":433.4},{"t":7.248,"v":428.7},{"t":7.292,"v":427.5},{"t":7.336,"v":422.8},{"t":7.38,"v":419.2},{"t":7.41,"v":419.8},{"t":7.439,"v":412.2},{"t":7.483,"v":413.4},{"t":7.513,"v":408.1},{"t":7.557,"v":407.2},{"t":7.601,"v":403.9},{"t":7.645,"v":402.8},{"t":7.704,"v":403.4},{"t":7.763,"v":403.9},{"t":7.823,"v":405.1},{"t":7.882,"v":406.9},{"t":7.955,"v":407.8},{"t":7.994,"v":404.5},{"t":8.029,"v":406.3},{"t":8.058,"v":406},{"t":8.102,"v":404.5},{"t":8.176,"v":404.5},{"t":8.235,"v":406},{"t":8.279,"v":404.5},{"t":8.323,"v":405.4},{"t":8.382,"v":404.1},{"t":8.411,"v":406.4},{"t":8.456,"v":409.6},{"t":8.485,"v":406},{"t":8.559,"v":404.7},{"t":8.603,"v":404.5},{"t":8.61,"v":566},{"t":8.8,"v":564},{"t":9.0,"v":562},{"t":9.3,"v":558},{"t":9.5,"v":555},{"t":9.708,"v":550},{"t":9.914,"v":549},{"t":9.973,"v":547.7},{"t":10.032,"v":545.7},{"t":10.091,"v":544.5},{"t":10.15,"v":543.8},{"t":10.209,"v":543.5},{"t":10.253,"v":543.2},{"t":10.297,"v":541.9},{"t":10.386,"v":541},{"t":10.445,"v":539.9},{"t":10.489,"v":541.2},{"t":10.533,"v":540.2},{"t":10.592,"v":541.2},{"t":10.651,"v":540.8},{"t":10.695,"v":539.3},{"t":10.754,"v":539.9},{"t":10.798,"v":518},{"t":10.813,"v":515.4},{"t":10.858,"v":514.8},{"t":10.917,"v":516.5},{"t":10.976,"v":514.8},{"t":11.035,"v":517.4},{"t":11.049,"v":514.1},{"t":11.093,"v":518},{"t":11.182,"v":517.4},{"t":11.27,"v":516.7},{"t":11.329,"v":516.7},{"t":11.388,"v":518.3},{"t":11.447,"v":519.3},{"t":11.506,"v":518},{"t":11.594,"v":518.3},{"t":11.668,"v":519.6},{"t":11.727,"v":514.4},{"t":11.816,"v":514.8},{"t":11.846,"v":503.2},{"t":11.89,"v":503.2},{"t":11.903,"v":502.9},{"t":11.947,"v":506.2},{"t":11.991,"v":500.1},{"t":12.035,"v":496.8},{"t":12.094,"v":500.7},{"t":12.124,"v":500.1},{"t":12.153,"v":516.6},{"t":12.198,"v":505.6},{"t":12.257,"v":505.6},{"t":12.301,"v":510},{"t":12.36,"v":508.4},{"t":12.404,"v":508.4},{"t":12.478,"v":505.6},{"t":12.507,"v":489.2},{"t":12.552,"v":488.1},{"t":12.581,"v":482.6},{"t":12.64,"v":482},{"t":12.684,"v":468.9},{"t":12.743,"v":464},{"t":12.802,"v":466.7},{"t":12.847,"v":462.9},{"t":12.906,"v":462.3},{"t":12.95,"v":456.8},{"t":12.994,"v":457.4},{"t":13.038,"v":448.6},{"t":13.097,"v":446.4},{"t":13.171,"v":444.8},{"t":13.201,"v":441},{"t":13.245,"v":434.9},{"t":13.289,"v":441},{"t":13.363,"v":442.6},{"t":13.407,"v":434.9},{"t":13.466,"v":434.4},{"t":13.496,"v":426.2},{"t":13.54,"v":431.1},{"t":13.584,"v":423.4},{"t":13.643,"v":421.2},{"t":13.687,"v":414.6},{"t":13.746,"v":411.3},{"t":13.776,"v":405.3},{"t":13.82,"v":419},{"t":13.864,"v":407.5},{"t":13.923,"v":414.1},{"t":13.968,"v":409.7},{"t":14.012,"v":413.5},{"t":14.056,"v":414.6},{"t":14.1,"v":407},{"t":14.145,"v":415.7},{"t":14.204,"v":416.8},{"t":14.233,"v":408.6},{"t":14.292,"v":425.6},{"t":14.336,"v":409.7},{"t":14.381,"v":414.6},{"t":14.41,"v":408.1},{"t":14.454,"v":409.7},{"t":14.499,"v":412.4},{"t":14.558,"v":415.2},{"t":14.617,"v":413.5},{"t":14.661,"v":414.1},{"t":14.69,"v":410.3},{"t":14.735,"v":415.7},{"t":14.779,"v":409.7},{"t":14.823,"v":412.4},{"t":14.867,"v":410.3},{"t":14.912,"v":411.3},{"t":14.971,"v":407},{"t":15.029,"v":410.8},{"t":15.088,"v":407.5},{"t":15.162,"v":409.7},{"t":15.221,"v":409.2},{"t":15.265,"v":410.3},{"t":15.295,"v":405.9},{"t":15.324,"v":409.2},{"t":15.369,"v":404.8},{"t":15.413,"v":409.2},{"t":15.472,"v":412.4},{"t":15.531,"v":411.9},{"t":15.59,"v":415.2},{"t":15.649,"v":407.5},{"t":15.693,"v":413},{"t":15.723,"v":407.5},{"t":15.752,"v":412.4},{"t":15.796,"v":415.7},{"t":15.832,"v":416.7},{"t":15.876,"v":418.4},{"t":15.92,"v":415},{"t":15.95,"v":410},{"t":15.994,"v":411.3},{"t":16.024,"v":409.5},{"t":16.053,"v":418},{"t":16.097,"v":415.9},{"t":16.127,"v":418.8},{"t":16.156,"v":408.7},{"t":16.201,"v":408.7},{"t":16.245,"v":411.7},{"t":16.274,"v":409.5},{"t":16.319,"v":414.6},{"t":16.378,"v":413.8},{"t":16.422,"v":409.5},{"t":16.466,"v":409.5},{"t":16.496,"v":407.9},{"t":16.555,"v":412.1},{"t":16.599,"v":408.7},{"t":16.643,"v":413.3},{"t":16.687,"v":407.9},{"t":16.732,"v":412.9},{"t":16.776,"v":408.3},{"t":16.82,"v":412.5},{"t":16.879,"v":409.5},{"t":16.923,"v":415.4},{"t":16.968,"v":409.1},{"t":17.012,"v":415.9},{"t":17.056,"v":410},{"t":17.115,"v":417.6},{"t":17.145,"v":409.1},{"t":17.218,"v":415.4},{"t":17.277,"v":407.4},{"t":17.322,"v":411.7},{"t":17.381,"v":423.9},{"t":17.425,"v":408.3},{"t":17.484,"v":411.3},{"t":17.528,"v":418.4},{"t":17.572,"v":413.8},{"t":17.631,"v":420.1},{"t":17.676,"v":415},{"t":17.735,"v":412.9},{"t":17.779,"v":420.9},{"t":17.838,"v":420.5},{"t":17.882,"v":415},{"t":17.941,"v":418},{"t":18.015,"v":415.9},{"t":18.074,"v":415.9},{"t":18.088,"v":423.9},{"t":18.133,"v":413.3},{"t":18.177,"v":418.4},{"t":18.236,"v":420.9},{"t":18.28,"v":423.4},{"t":18.339,"v":428.5},{"t":18.383,"v":426},{"t":18.428,"v":425.1},{"t":18.472,"v":420.1},{"t":18.501,"v":419.2},{"t":18.531,"v":429.8},{"t":18.56,"v":421.8},{"t":18.605,"v":424.3},{"t":18.664,"v":431},{"t":18.708,"v":419.2},{"t":18.767,"v":419.2},{"t":18.841,"v":417.1},{"t":18.914,"v":420.1},{"t":18.973,"v":421.4},{"t":19.018,"v":419.2},{"t":19.062,"v":424.3},{"t":19.1,"v":419.2},{"t":19.136,"v":434.8},{"t":19.18,"v":433.1},{"t":19.209,"v":421.8},{"t":19.254,"v":418.4},{"t":19.298,"v":426.8},{"t":19.327,"v":436.5},{"t":19.372,"v":436.5},{"t":19.416,"v":444.9},{"t":19.46,"v":446.6},{"t":19.49,"v":449.2},{"t":19.534,"v":442.8},{"t":19.563,"v":437.4},{"t":19.622,"v":442.5},{"t":19.652,"v":430.6},{"t":19.711,"v":430.2},{"t":19.755,"v":433.1},{"t":19.785,"v":439.9},{"t":19.829,"v":434.8},{"t":19.858,"v":434.6},{"t":19.888,"v":444.7},{"t":19.932,"v":442.3},{"t":19.971,"v":448},{"t":20.006,"v":442.6},{"t":20.035,"v":428.5},{"t":20.065,"v":423.1},{"t":20.094,"v":431.2},{"t":20.118,"v":433.6},{"t":20.139,"v":426.1},{"t":20.183,"v":429.2},{"t":20.227,"v":429.8},{"t":20.257,"v":435.9},{"t":20.301,"v":443.3},{"t":20.345,"v":454.1},{"t":20.389,"v":456.8},{"t":20.419,"v":463.5},{"t":20.442,"v":468.6},{"t":20.478,"v":458.8},{"t":20.507,"v":460.5},{"t":20.537,"v":428.8},{"t":20.581,"v":441.3},{"t":20.625,"v":444.7},{"t":20.655,"v":442},{"t":20.699,"v":447.4},{"t":20.729,"v":447.7},{"t":20.743,"v":454.1},{"t":20.773,"v":444.7},{"t":20.802,"v":441},{"t":20.861,"v":454.8},{"t":20.906,"v":446.7},{"t":20.944,"v":455.1},{"t":20.973,"v":447.4},{"t":21,"v":452.4},{"t":21.024,"v":442},{"t":21.053,"v":450.1},{"t":21.112,"v":452.4},{"t":21.171,"v":466.6},{"t":21.201,"v":466.2},{"t":21.23,"v":460.2},{"t":21.26,"v":461.5},{"t":21.289,"v":452.1},{"t":21.333,"v":437.3},{"t":21.363,"v":432.5},{"t":21.392,"v":429.8},{"t":21.422,"v":429.2},{"t":21.451,"v":424.4},{"t":21.496,"v":428.8},{"t":21.54,"v":427.8},{"t":21.584,"v":422.1},{"t":21.628,"v":426.5},{"t":21.673,"v":425.1},{"t":21.702,"v":426.5},{"t":21.761,"v":428.8},{"t":21.805,"v":423.4},{"t":21.864,"v":424.4},{"t":21.894,"v":415},{"t":21.923,"v":414},{"t":21.953,"v":418.4},{"t":21.982,"v":415.4},{"t":22.027,"v":423.4},{"t":22.071,"v":423.4},{"t":22.115,"v":429.5},{"t":22.174,"v":429.2},{"t":22.218,"v":425.5},{"t":22.248,"v":428.2},{"t":22.292,"v":426.5},{"t":22.322,"v":424.4},{"t":22.366,"v":428.5},{"t":22.41,"v":429.8},{"t":22.425,"v":432.9},{"t":22.454,"v":423.8},{"t":22.499,"v":427.1},{"t":22.528,"v":425.1},{"t":22.558,"v":431.2},{"t":22.602,"v":434.6},{"t":22.631,"v":442.6},{"t":22.676,"v":449.7},{"t":22.705,"v":447.4},{"t":22.749,"v":441.3},{"t":22.779,"v":433.9},{"t":22.823,"v":430.2},{"t":22.867,"v":421.8},{"t":22.912,"v":423.4},{"t":22.956,"v":421.1},{"t":23.015,"v":420.7},{"t":23.059,"v":420.1},{"t":23.103,"v":418.7},{"t":23.147,"v":419.7},{"t":23.201,"v":422.7},{"t":23.236,"v":417.4},{"t":23.28,"v":418.4},{"t":23.339,"v":416.7},{"t":23.383,"v":418.4},{"t":23.428,"v":419.7},{"t":23.463,"v":423.8},{"t":23.501,"v":418.7},{"t":23.546,"v":420.4},{"t":23.59,"v":419.7},{"t":23.634,"v":418.7},{"t":23.67,"v":420.7},{"t":23.708,"v":416.7},{"t":23.752,"v":418.4},{"t":23.811,"v":419.5},{"t":23.87,"v":419.9},{"t":23.914,"v":418.4},{"t":23.959,"v":419.9},{"t":24,"v":418.7}
],
"note": [{"label": "erstellt 2020-01-07 23:59:28"}]
},
"layer": [
  {
    "data": {"name": "band"},
    "mark": {"type": "area", "color": "#bfbfbf", "opacity": 1, "clip": true},
    "encoding": {
      "x": {"field": "t", "type": "quantitative", "scale": {"domain": [0, 24], "nice": false, "zero": false},
            "axis": {"title": "Uhrzeit (UTC)", "values": [0, 3, 6, 9, 12, 15, 18, 21, 24],
                     "labelExpr": "datum.value == 24 ? '00' : (datum.value < 10 ? '0' + datum.value : '' + datum.value)",
                     "titlePadding": 16,
                     "gridOpacity": {"condition": {"test": "datum.value == 0 || datum.value == 24", "value": 0}, "value": 1}}},
      "y": {"field": "lo", "type": "quantitative", "scale": {"domain": [350, 550], "nice": false, "zero": false},
            "axis": {"title": "ppm", "values": [350, 375, 400, 425, 450, 475, 500, 525, 550], "titlePadding": 16,
                     "gridOpacity": {"condition": {"test": "datum.value == 350 || datum.value == 550", "value": 0}, "value": 1}}},
      "y2": {"field": "hi"}
    }
  },
  {
    "data": {"name": "raw"},
    "mark": {"type": "line", "strokeWidth": 2, "clip": true},
    "encoding": {
      "x": {"field": "t", "type": "quantitative"},
      "y": {"field": "v", "type": "quantitative"},
      "color": {"datum": "Messwerte (~10 Hz)", "type": "nominal",
                "scale": {"domain": ["Messwerte (~10 Hz)", "1-Minuten-mittel"], "range": ["#bfbfbf", "#ff0000"]},
                "legend": {"title": null, "orient": "none", "legendX": 2120, "legendY": 19,
                           "symbolType": "M-1,0H3", "symbolSize": 1806, "symbolStrokeWidth": 3,
                           "labelFont": "DejaVu Sans", "labelFontSize": 41.7, "labelColor": "black", "labelOffset": 78, "labelLimit": 0,
                           "padding": 16, "rowPadding": 18, "strokeColor": "#cccccc", "fillColor": "white", "cornerRadius": 8,
                           "encode": {"symbols": {"update": {"strokeWidth": {"signal": "datum.label === '1-Minuten-mittel' ? 5.5 : 2"}, "fill": {"value": "transparent"}}},
                                      "legend": {"update": {"strokeWidth": {"value": 3}}}}}}
    }
  },
  {
    "data": {"name": "mean"},
    "mark": {"type": "line", "strokeWidth": 5.5, "clip": true},
    "encoding": {
      "x": {"field": "t", "type": "quantitative"},
      "y": {"field": "v", "type": "quantitative"},
      "color": {"datum": "1-Minuten-mittel", "type": "nominal"}
    }
  },
  {
    "data": {"name": "note"},
    "mark": {"type": "text", "fontSize": 17, "color": "#808080", "align": "left", "baseline": "middle", "font": "DejaVu Sans"},
    "encoding": {
      "x": {"datum": 0.097, "type": "quantitative"},
      "y": {"datum": 547.5, "type": "quantitative"},
      "text": {"field": "label", "type": "nominal"}
    }
  }
]
}
